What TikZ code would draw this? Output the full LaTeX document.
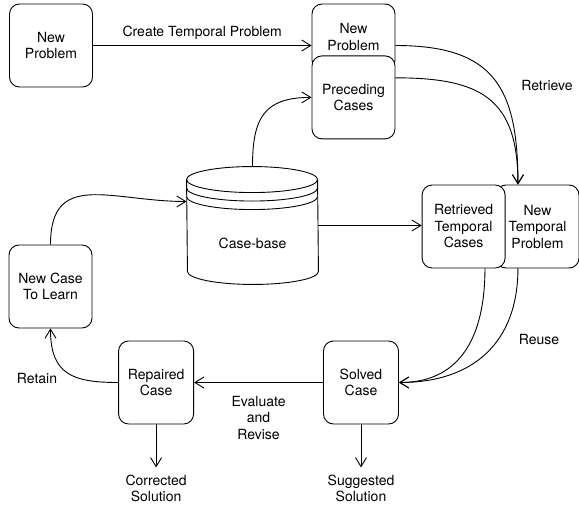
\documentclass[tikz,border=0pt]{standalone}
\usepackage{fontspec}
\setmainfont{TeX Gyre Heros}
\usetikzlibrary{arrows.meta,positioning}

\begin{document}
\begin{tikzpicture}[
    x=1pt,y=-1pt,
    line width=0.9pt,
    font=\fontsize{14}{16.5}\selectfont,
    box/.style={draw,fill=white,rounded corners=10pt,minimum width=83pt,
                minimum height=83pt,align=center,inner sep=1pt},
    smallbox/.style={box,minimum width=75pt},
    outtext/.style={align=center,inner xsep=0pt,inner ysep=7pt},
    lbl/.style={align=center},
    arrow/.style={-{Straight Barb[length=9pt,width=11pt]}},
    curved/.style={arrow,looseness=1.35}
  ]
    \useasboundingbox (0,0) rectangle (579,506);

    \node[box] (np) at (51,45.5) {New\\Problem};

    \node[box,minimum height=66pt] (np2) at (353.5,37) {New\\Problem};
    \node[box,below=-15pt of np2] (prec) {Preceding\\Cases};

    % case-base store
    \node[minimum width=131pt,minimum height=117pt,inner sep=0pt] (cb) at (252.5,225.5) {};
    \draw[fill=white] ([yshift=-13pt]cb.north west)
        arc[start angle=180,end angle=0,x radius=65.5pt,y radius=13pt]
        -- ([yshift=13pt]cb.south east)
        arc[start angle=0,end angle=-180,x radius=65.5pt,y radius=13pt] -- cycle;
    \foreach \d in {13,21.5,30}
      \draw ([yshift=-\d pt]cb.north west)
          arc[start angle=180,end angle=360,x radius=65.5pt,y radius=13pt];
    \node (cbtext) at ([yshift=-17.5pt]cb.center) {Case-base};

    \node[box] (ntp) at (537.5,226.5) {New\\Temporal\\Problem};
    \node[box,left=-10pt of ntp] (rtc) {Retrieved\\Temporal\\Cases};

    \node[box] (nctl) at (50.5,286.5) {New Case\\To Learn};

    \node[smallbox] (sc) at (361,382.5) {Solved\\Case};
    \node[smallbox,left=129pt of sc] (rc) {Repaired\\Case};

    \node[outtext,below=43pt of sc] (sug) {Suggested\\Solution};
    \node[outtext,below=43pt of rc] (cor) {Corrected\\Solution};

    \node[lbl] (retrieve) at (547,86) {Retrieve};
    \node[lbl] (reuse) at (539,339) {Reuse};
    \node[lbl] (retain) at (37,378) {Retain};

    \draw[arrow] (np) -- (np -| np2.west)
        node[midway,above,yshift=2pt] (ctp) {Create Temporal Problem};
    \draw[curved] (cb.north) to[out=90,in=180] (prec.west);
    \draw[curved] (np2.east |- np.east) to[out=0,in=90] (ntp.115);
    \draw[curved] (prec.25) to[out=0,in=90] (ntp.115);
    \draw[arrow] (cb.east) -- (cb.east -| rtc.west);
    \draw[arrow,looseness=1.15] (rtc.-63) to[out=-90,in=0] (sc.east);
    \draw[arrow,looseness=1.15] (ntp.-115) to[out=-90,in=0] (sc.east);
    \draw[arrow] (sc) -- (rc)
        node[lbl,midway,below,yshift=-10pt] (evr) {Evaluate\\and\\Revise};
    \draw[arrow] (sc) -- (sug);
    \draw[arrow] (rc) -- (cor);
    \draw[curved] (rc.west) to[out=180,in=-90] (nctl.south);
    \draw[curved] (nctl.north) to[out=90,in=180] (cb.160);
  \end{tikzpicture}
\end{document}
